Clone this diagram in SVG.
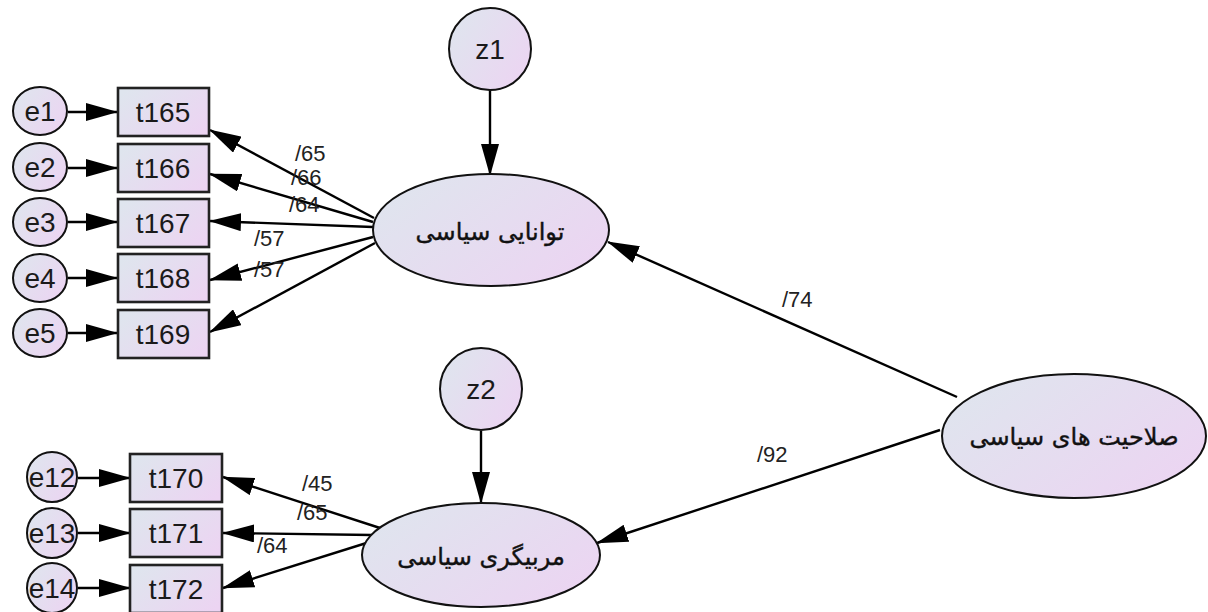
<svg xmlns="http://www.w3.org/2000/svg" width="1208" height="612" viewBox="0 0 1208 612">
<defs>
<linearGradient id="g" x1="0" y1="0.2" x2="1" y2="0.8">
<stop offset="0" stop-color="#dfe5ee"/>
<stop offset="1" stop-color="#ecd4f2"/>
</linearGradient>
<marker id="ah" viewBox="0 0 32 18" refX="31" refY="9" markerWidth="32" markerHeight="18" markerUnits="userSpaceOnUse" orient="auto">
<path d="M0,0 L32,9 L0,18 Z" fill="#000"/>
</marker>
<style>
.n{fill:url(#g);stroke:#111;stroke-width:2}
.b{fill:url(#g);stroke:#222;stroke-width:2.6}
.c line{stroke:#000;stroke-width:2.4;marker-end:url(#ah)}
.t{font-family:"Liberation Sans",Arial,sans-serif;font-size:28px;fill:#1a1a1a;text-anchor:middle}
.l{font-family:"Liberation Sans",Arial,sans-serif;font-size:22px;fill:#222}
.fa{font-family:"DejaVu Sans","Noto Sans",sans-serif;font-size:24px;fill:#111;text-anchor:middle;direction:rtl;stroke:#111;stroke-width:0.4}
</style>
</defs>
<rect width="1208" height="612" fill="#fff"/>
<g id="connectors" class="c">
<line x1="68" y1="112" x2="117" y2="112"/>
<line x1="68" y1="168" x2="117" y2="168"/>
<line x1="68" y1="222" x2="117" y2="222"/>
<line x1="68" y1="278" x2="117" y2="278"/>
<line x1="68" y1="333" x2="117" y2="333"/>
<line x1="78" y1="478" x2="130" y2="478"/>
<line x1="78" y1="533" x2="130" y2="533"/>
<line x1="78" y1="588" x2="130" y2="588"/>
<line x1="490" y1="90" x2="490" y2="175"/>
<line x1="481" y1="431" x2="481" y2="503"/>
<line x1="374" y1="218" x2="210" y2="130"/>
<line x1="373" y1="222" x2="210" y2="174"/>
<line x1="373" y1="227" x2="210" y2="221"/>
<line x1="373" y1="237" x2="210" y2="280"/>
<line x1="375" y1="243" x2="210" y2="332"/>
<line x1="380" y1="528" x2="223" y2="477"/>
<line x1="372" y1="535" x2="223" y2="533"/>
<line x1="376" y1="540" x2="223" y2="588"/>
<line x1="957" y1="397" x2="608" y2="242"/>
<line x1="940" y1="430" x2="597" y2="543"/>
</g>
<g id="labels">
<text class="l" x="295" y="161">/65</text>
<text class="l" x="291" y="185">/66</text>
<text class="l" x="289" y="212">/64</text>
<text class="l" x="254" y="246">/57</text>
<text class="l" x="254" y="277">/57</text>
<text class="l" x="302" y="491">/45</text>
<text class="l" x="297" y="520">/65</text>
<text class="l" x="257" y="553">/64</text>
<text class="l" x="782" y="307">/74</text>
<text class="l" x="757" y="462">/92</text>
</g>
<g id="z1"><circle class="n" cx="490" cy="49" r="41"/><text class="t" x="490" y="59">z1</text></g>
<g id="z2"><circle class="n" cx="481" cy="389" r="41"/><text class="t" x="481" y="399">z2</text></g>
<g id="e1"><ellipse class="n" cx="40" cy="111" rx="27" ry="24"/><text class="t" x="40" y="121">e1</text></g>
<g id="e2"><ellipse class="n" cx="40" cy="167" rx="27" ry="24"/><text class="t" x="40" y="177">e2</text></g>
<g id="e3"><ellipse class="n" cx="40" cy="222" rx="27" ry="24"/><text class="t" x="40" y="232">e3</text></g>
<g id="e4"><ellipse class="n" cx="40" cy="278" rx="27" ry="24"/><text class="t" x="40" y="288">e4</text></g>
<g id="e5"><ellipse class="n" cx="40" cy="333" rx="27" ry="24"/><text class="t" x="40" y="343">e5</text></g>
<g id="e12"><circle class="n" cx="52" cy="477" r="25"/><text class="t" x="52" y="487">e12</text></g>
<g id="e13"><circle class="n" cx="52" cy="533" r="25"/><text class="t" x="52" y="543">e13</text></g>
<g id="e14"><circle class="n" cx="52" cy="588" r="25"/><text class="t" x="52" y="598">e14</text></g>
<g id="t165"><rect class="b" x="118" y="88" width="91" height="48"/><text class="t" x="163" y="122">t165</text></g>
<g id="t166"><rect class="b" x="118" y="144" width="91" height="48"/><text class="t" x="163" y="178">t166</text></g>
<g id="t167"><rect class="b" x="118" y="199" width="91" height="48"/><text class="t" x="163" y="233">t167</text></g>
<g id="t168"><rect class="b" x="118" y="254" width="91" height="48"/><text class="t" x="163" y="288">t168</text></g>
<g id="t169"><rect class="b" x="118" y="310" width="91" height="48"/><text class="t" x="163" y="344">t169</text></g>
<g id="t170"><rect class="b" x="130" y="454" width="92" height="48"/><text class="t" x="176" y="488">t170</text></g>
<g id="t171"><rect class="b" x="130" y="509" width="92" height="48"/><text class="t" x="176" y="543">t171</text></g>
<g id="t172"><rect class="b" x="130" y="565" width="92" height="48"/><text class="t" x="176" y="599">t172</text></g>
<g id="tavanayi"><ellipse class="n" cx="491" cy="230" rx="118" ry="56"/><text class="fa" x="490" y="240">توانایی سیاسی</text></g>
<g id="morabigari"><ellipse class="n" cx="481" cy="555" rx="119" ry="52"/><text class="fa" x="481" y="565">مربیگری سیاسی</text></g>
<g id="salahiyat"><ellipse class="n" cx="1074" cy="436" rx="132" ry="62"/><text class="fa" x="1074" y="445">صلاحیت های سیاسی</text></g>
</svg>
